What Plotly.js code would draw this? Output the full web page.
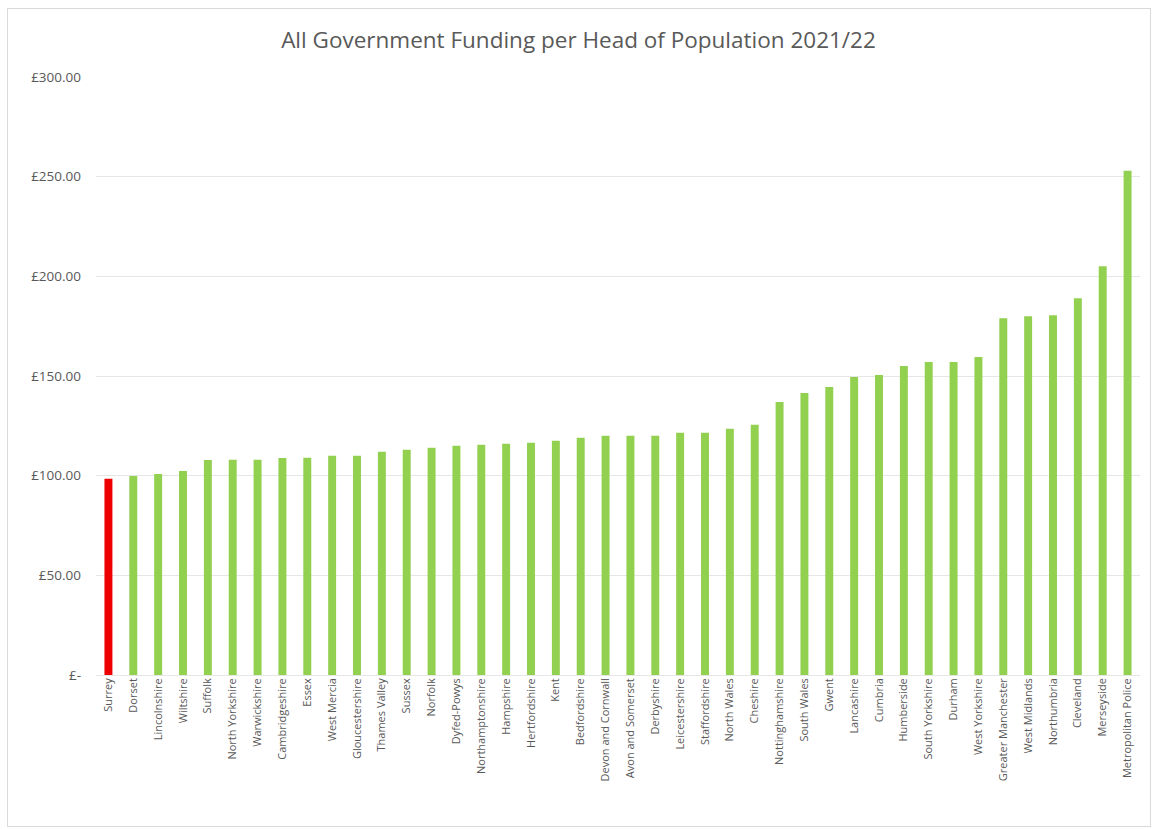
<!DOCTYPE html>
<html>
<head>
<meta charset="utf-8">
<script src="https://cdn.plot.ly/plotly-3.0.1.min.js"></script>
<style>
html,body{margin:0;padding:0;background:#fff;}
#chart{width:1157px;height:829px;}
#frame{position:absolute;left:7px;top:8px;width:1142px;height:817px;border:1px solid #d9d9d9;pointer-events:none;}
</style>
</head>
<body>
<div id="chart"></div>
<div id="frame"></div>
<script>
const categories = ["Surrey","Dorset","Lincolnshire","Wiltshire","Suffolk","North Yorkshire","Warwickshire","Cambridgeshire","Essex","West Mercia","Gloucestershire","Thames Valley","Sussex","Norfolk","Dyfed-Powys","Northamptonshire","Hampshire","Hertfordshire","Kent","Bedfordshire","Devon and Cornwall","Avon and Somerset","Derbyshire","Leicestershire","Staffordshire","North Wales","Cheshire","Nottinghamshire","South Wales","Gwent","Lancashire","Cumbria","Humberside","South Yorkshire","Durham","West Yorkshire","Greater Manchester","West Midlands","Northumbria","Cleveland","Merseyside","Metropolitan Police"];
const fundingPerHead = [98.5,99.8,100.8,102.3,107.9,108,108,108.9,109,110,110,112,113,114,115,115.5,116,116.5,117.5,119,120,120,120,121.5,121.5,123.5,125.5,137,141.5,144.5,149.5,150.5,155,157,157,159.5,179,180,180.5,189,205,253];
const highlighted = "Surrey";
const tickValues = [0,50,100,150,200,250,300];
const tickLabels = ["£-","£50.00","£100.00","£150.00","£200.00","£250.00","£300.00"];

const colors = categories.map(c => c === highlighted ? "#ee0000" : "#92d050");

Plotly.newPlot("chart", [{
  type: "bar",
  x: categories,
  y: fundingPerHead,
  marker: {color: colors},
  hoverinfo: "x+y"
}], {
  width: 1157, height: 829,
  paper_bgcolor: "#fff", plot_bgcolor: "#fff",
  margin: {l: 96, r: 17, t: 77, b: 154},
  bargap: 0.68,
  title: {text: "All Government Funding per Head of Population 2021/22", x: 0.5, xanchor: "center", y: 0.951, yanchor: "middle",
          font: {family: "Open Sans, DejaVu Sans, sans-serif", size: 22.5, color: "#595959"}},
  xaxis: {tickangle: -90, tickfont: {family: "Open Sans, sans-serif", size: 11, color: "#595959"},
          showline: false, ticks: "", showgrid: false},
  yaxis: {range: [0, 300], tickvals: tickValues, ticktext: tickLabels,
          tickfont: {family: "Open Sans, sans-serif", size: 13.5, color: "#595959"},
          gridcolor: "#e6e6e6", zeroline: true, zerolinecolor: "#e6e6e6", showline: false, ticks: "", ticklabelstandoff: 14},
  showlegend: false
}, {displayModeBar: false, staticPlot: true});
</script>
</body>
</html>
